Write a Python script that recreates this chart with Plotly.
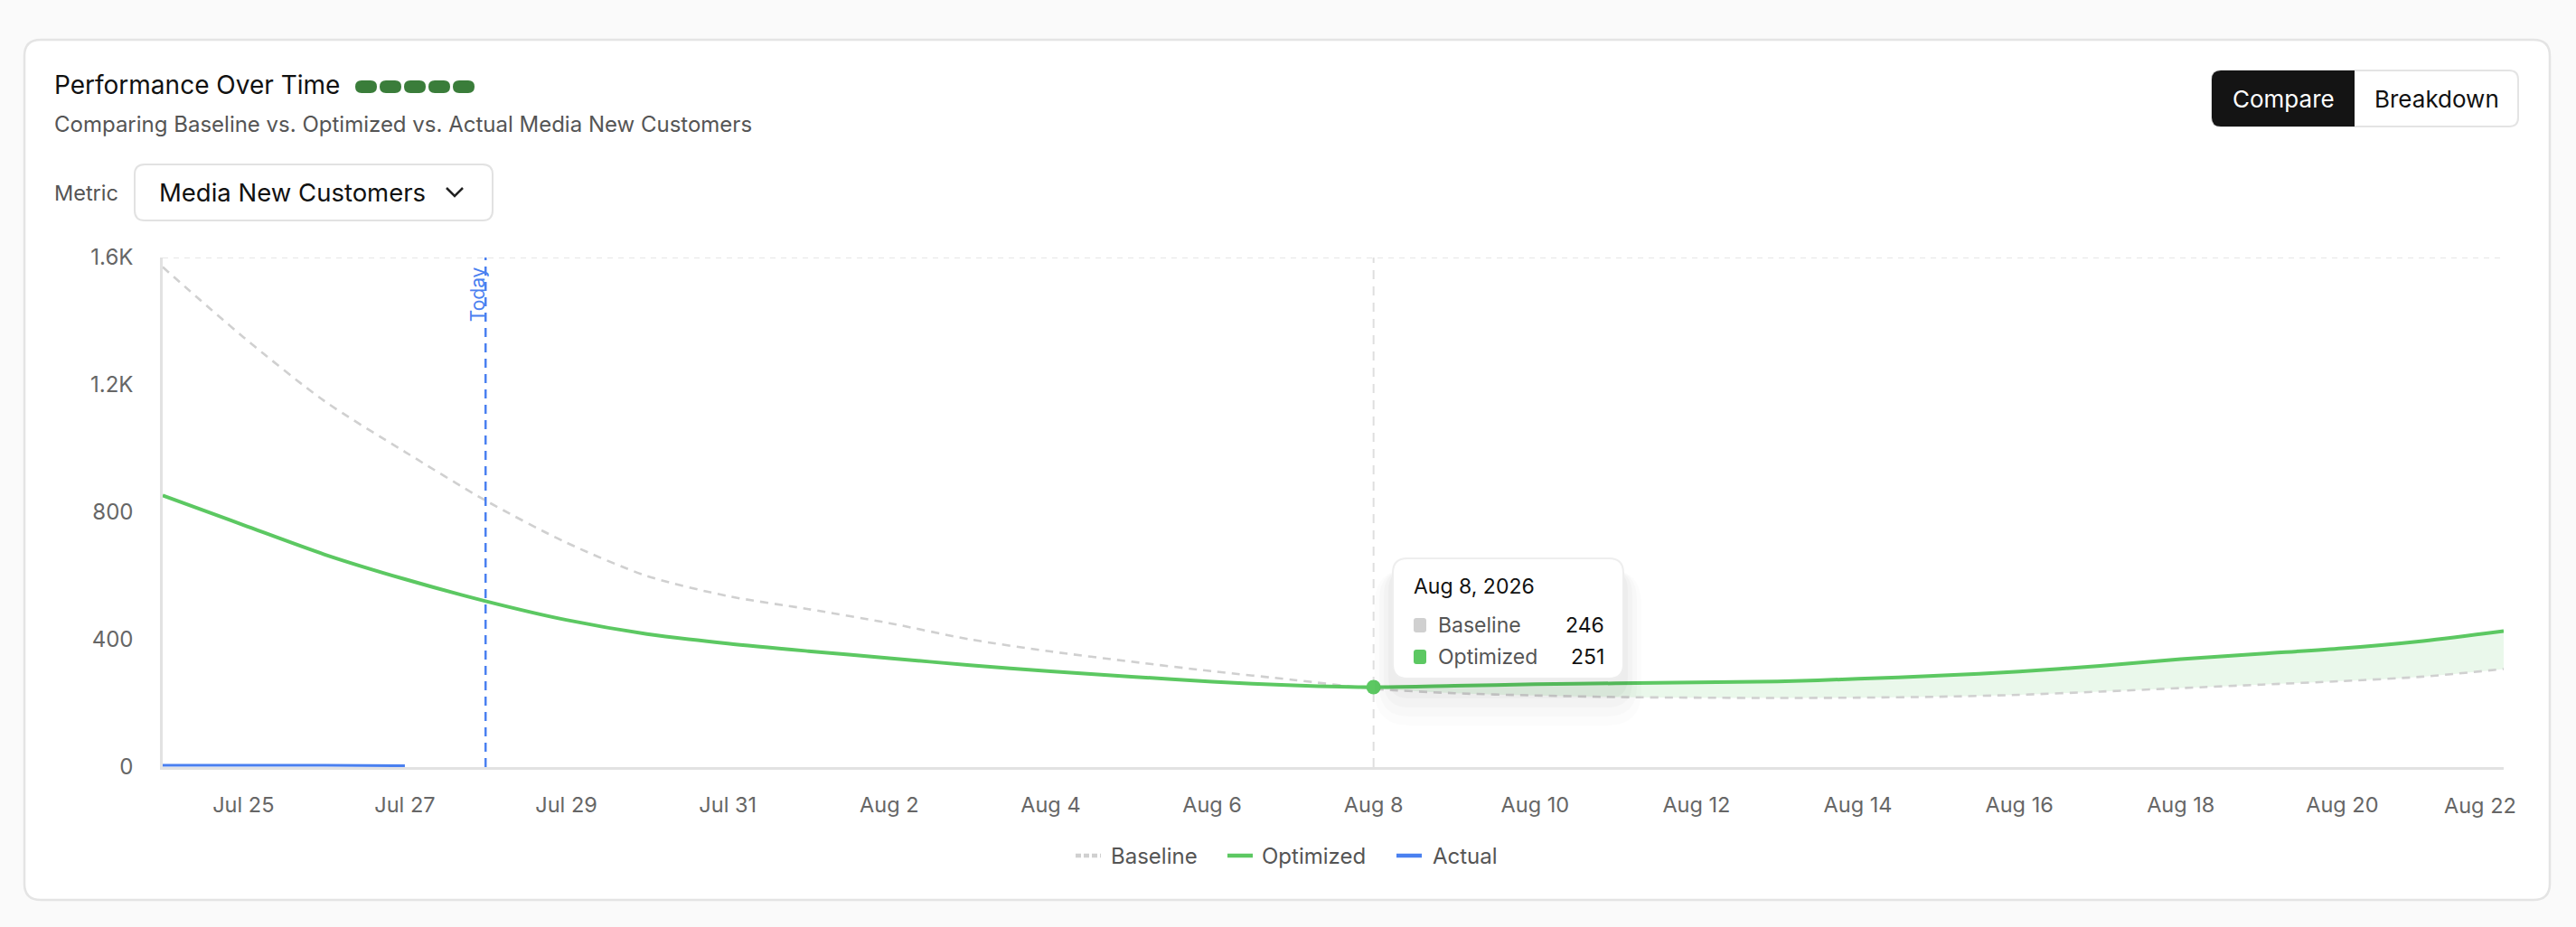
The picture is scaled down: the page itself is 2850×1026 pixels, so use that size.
import pandas as pd
import plotly.graph_objects as go

# Data (daily, 2026)
dates = pd.date_range("2026-07-24", "2026-08-22", freq="D")
baseline = [1570, 1350, 1150, 990, 837, 705, 600, 537, 496, 452, 401, 363, 331, 301, 274,
            246, 232, 225, 220, 218, 217, 218, 221, 227, 237, 248, 259, 270, 284, 308]
optimized = [853, 760, 668, 590, 521, 462, 418, 388, 364, 342, 320, 301, 284, 268, 257,
             251, 255, 260, 263, 266, 269, 277, 287, 300, 318, 339, 356, 373, 396, 427]
actual = [6, 7, 6, 4]

today = "2026-07-28"
hover_day = "2026-08-08"

y_ticks = [0, 400, 800, 1200, 1600]
y_labels = ["0", "400", "800", "1.2K", "1.6K"]
x_ticks = pd.date_range("2026-07-25", "2026-08-20", freq="2D")
x_labels = [d.strftime("%b ") + str(d.day) for d in x_ticks]

series_names = ["Baseline", "Optimized", "Actual"]

GREEN = "#5cc862"
GRAY = "#d0d0d0"
BLUE = "#4a80f0"
FONT = "Inter"

# Figure geometry in pixels
W, H = 2850, 1026
ML, MR, MT, MB = 180, 80, 285, 177
PW, PH = W - ML - MR, H - MT - MB


def px(x):
    return (x - ML) / PW


def py(y):
    return (H - MB - y) / PH


def rrect(x0, y0, x1, y1, r, left=True, right=True):
    rl = r if left else 0
    rr = r if right else 0
    pts = [
        f"M{px(x0 + rl)},{py(y0)}", f"L{px(x1 - rr)},{py(y0)}",
        f"Q{px(x1)},{py(y0)} {px(x1)},{py(y0 + rr)}", f"L{px(x1)},{py(y1 - rr)}",
        f"Q{px(x1)},{py(y1)} {px(x1 - rr)},{py(y1)}", f"L{px(x0 + rl)},{py(y1)}",
        f"Q{px(x0)},{py(y1)} {px(x0)},{py(y1 - rl)}", f"L{px(x0)},{py(y0 + rl)}",
        f"Q{px(x0)},{py(y0)} {px(x0 + rl)},{py(y0)}", "Z",
    ]
    return " ".join(pts)


hi = list(dates).index(pd.Timestamp(hover_day))

fig = go.Figure()

# fill between baseline and optimized after the crossover
fig.add_trace(go.Scatter(x=dates[hi:], y=baseline[hi:], mode="lines", line=dict(width=0, shape="spline"),
                         hoverinfo="skip"))
fig.add_trace(go.Scatter(x=dates[hi:], y=optimized[hi:], mode="lines", line=dict(width=0, shape="spline"),
                         fill="tonexty", fillcolor="rgba(92,200,98,0.13)", hoverinfo="skip"))

fig.add_trace(go.Scatter(x=dates, y=baseline, mode="lines", name=series_names[0],
                         line=dict(color=GRAY, width=2.6, dash="9px,7px", shape="spline", smoothing=0.8)))
fig.add_trace(go.Scatter(x=dates, y=optimized, mode="lines", name=series_names[1],
                         line=dict(color=GREEN, width=4, shape="spline", smoothing=0.8)))
fig.add_trace(go.Scatter(x=dates[:len(actual)], y=actual, mode="lines", name=series_names[2],
                         line=dict(color=BLUE, width=3)))
fig.add_trace(go.Scatter(x=[dates[hi]], y=[optimized[hi]], mode="markers",
                         marker=dict(color=GREEN, size=16)))

shapes = []
# card
shapes.append(dict(type="path", xref="paper", yref="paper", path=rrect(27, 44, 2821, 996, 18),
                   fillcolor="white", line=dict(color="#e4e4e4", width=2.5), layer="below"))
# status pills next to title
for i in range(5):
    shapes.append(dict(type="path", xref="paper", yref="paper",
                       path=rrect(393 + i * 27, 89, 417 + i * 27, 103, 7),
                       fillcolor="#3a7d3a", line=dict(width=0)))
# metric dropdown
shapes.append(dict(type="path", xref="paper", yref="paper", path=rrect(149, 182, 545, 244, 11),
                   fillcolor="white", line=dict(color="#e2e2e2", width=2)))
shapes.append(dict(type="path", xref="paper", yref="paper",
                   path=f"M{px(494)},{py(208)} L{px(503)},{py(217)} L{px(512)},{py(208)}",
                   line=dict(color="#222", width=2.5)))
# compare / breakdown toggle
shapes.append(dict(type="path", xref="paper", yref="paper", path=rrect(2447, 78, 2786, 140, 10),
                   fillcolor="white", line=dict(color="#e4e4e4", width=2)))
shapes.append(dict(type="path", xref="paper", yref="paper", path=rrect(2447, 78, 2605, 140, 10, right=False),
                   fillcolor="#141414", line=dict(width=0)))
# top gridline, today line, hover line
shapes.append(dict(type="line", xref="paper", yref="y", x0=0, x1=1, y0=1600, y1=1600,
                   line=dict(color="#e6e6e6", width=2, dash="6px,6px"), layer="below"))
shapes.append(dict(type="line", xref="x", yref="paper", x0=today, x1=today, y0=0, y1=1,
                   line=dict(color=BLUE, width=2.5, dash="10px,7px")))
shapes.append(dict(type="line", xref="x", yref="paper", x0=hover_day, x1=hover_day, y0=0, y1=1,
                   line=dict(color="#dedede", width=2, dash="10px,8px"), layer="below"))
# tooltip with soft shadow
for k, a in enumerate([0.012, 0.015, 0.018, 0.022]):
    g = 20 - k * 5
    shapes.append(dict(type="path", xref="paper", yref="paper",
                       path=rrect(1541 - g, 618 + 12, 1796 + g, 751 + 12 + g * 2, 18 + g),
                       fillcolor=f"rgba(0,0,0,{a})", line=dict(width=0)))
shapes.append(dict(type="path", xref="paper", yref="paper", path=rrect(1541, 618, 1796, 751, 16),
                   fillcolor="white", line=dict(color="#eeeeee", width=2)))
shapes.append(dict(type="path", xref="paper", yref="paper", path=rrect(1564, 684, 1578, 700, 3),
                   fillcolor=GRAY, line=dict(width=0)))
shapes.append(dict(type="path", xref="paper", yref="paper", path=rrect(1564, 719, 1578, 735, 3),
                   fillcolor=GREEN, line=dict(width=0)))

# legend drawn by hand (icon start, text start)
legend_pos = [(1190, 1231), (1358, 1398), (1545, 1587)]
legend_style = [(GRAY, "6px,3px"), (GREEN, "solid"), (BLUE, "solid")]
for (ix, _), (col, dash) in zip(legend_pos, legend_style):
    shapes.append(dict(type="line", xref="paper", yref="paper", x0=px(ix), x1=px(ix + 28),
                       y0=py(947), y1=py(947), line=dict(color=col, width=4.5, dash=dash)))


def note(text, x, y, size, color, xanchor="left", **kw):
    return dict(text=text, x=px(x), y=py(y), xref="paper", yref="paper", showarrow=False,
                xanchor=xanchor, yanchor="middle", font=dict(family=FONT, size=size, color=color), **kw)


annotations = [
    note("Performance Over Time", 58, 94, 28, "#111"),
    note("Comparing Baseline vs. Optimized vs. Actual Media New Customers", 58, 138, 24, "#555"),
    note("Metric", 58, 213, 23.5, "#555"),
    note("Media New Customers", 174, 213, 27.5, "#111"),
    note("Compare", 2526, 109, 26, "white", xanchor="center"),
    note("Breakdown", 2696, 109, 26, "#111", xanchor="center"),
    note("Aug 8, 2026", 1562, 649, 23, "#111"),
    note(series_names[0], 1589, 692, 23, "#555"),
    note(series_names[1], 1589, 727, 23, "#555"),
    note(str(baseline[hi]), 1777, 692, 23, "#111", xanchor="right"),
    note(str(optimized[hi]), 1777, 727, 23, "#111", xanchor="right"),
    dict(text="Today", x=today, y=py(326), xref="x", yref="paper", showarrow=False, textangle=-90,
         xanchor="center", yanchor="middle", xshift=-9, font=dict(family=FONT, size=21, color=BLUE)),
    dict(text=dates[-1].strftime("%b ") + str(dates[-1].day), x=dates[-1], y=py(891), xref="x", yref="paper",
         showarrow=False, xanchor="center", yanchor="middle", xshift=-26,
         font=dict(family=FONT, size=23.5, color="#666")),
]
for name, (_, tx) in zip(series_names, legend_pos):
    annotations.append(note(name, tx - 4, 947, 24, "#555"))

fig.update_layout(
    width=W, height=H,
    margin=dict(l=ML, r=MR, t=MT, b=MB),
    paper_bgcolor="#fafafa",
    plot_bgcolor="rgba(0,0,0,0)",
    font=dict(family=FONT, size=23, color="#666"),
    shapes=shapes,
    annotations=annotations,
    showlegend=False,
    hovermode=False,
)
fig.update_xaxes(range=[dates[0], dates[-1]], tickvals=x_ticks, ticktext=x_labels,
                 showgrid=False, zeroline=False, showline=True, linecolor="#e2e2e2", linewidth=2.5,
                 ticks="", ticklabelstandoff=19, tickfont=dict(size=23.5, color="#666"))
fig.update_yaxes(range=[0, 1600], tickvals=y_ticks, ticktext=y_labels,
                 showgrid=False, zeroline=False, showline=True, linecolor="#e2e2e2", linewidth=2.5,
                 ticks="", ticklabelstandoff=25, tickfont=dict(size=24, color="#666"))

fig.write_html("out.html", config={"displayModeBar": False},
               post_script="document.body.style.margin='0';")
